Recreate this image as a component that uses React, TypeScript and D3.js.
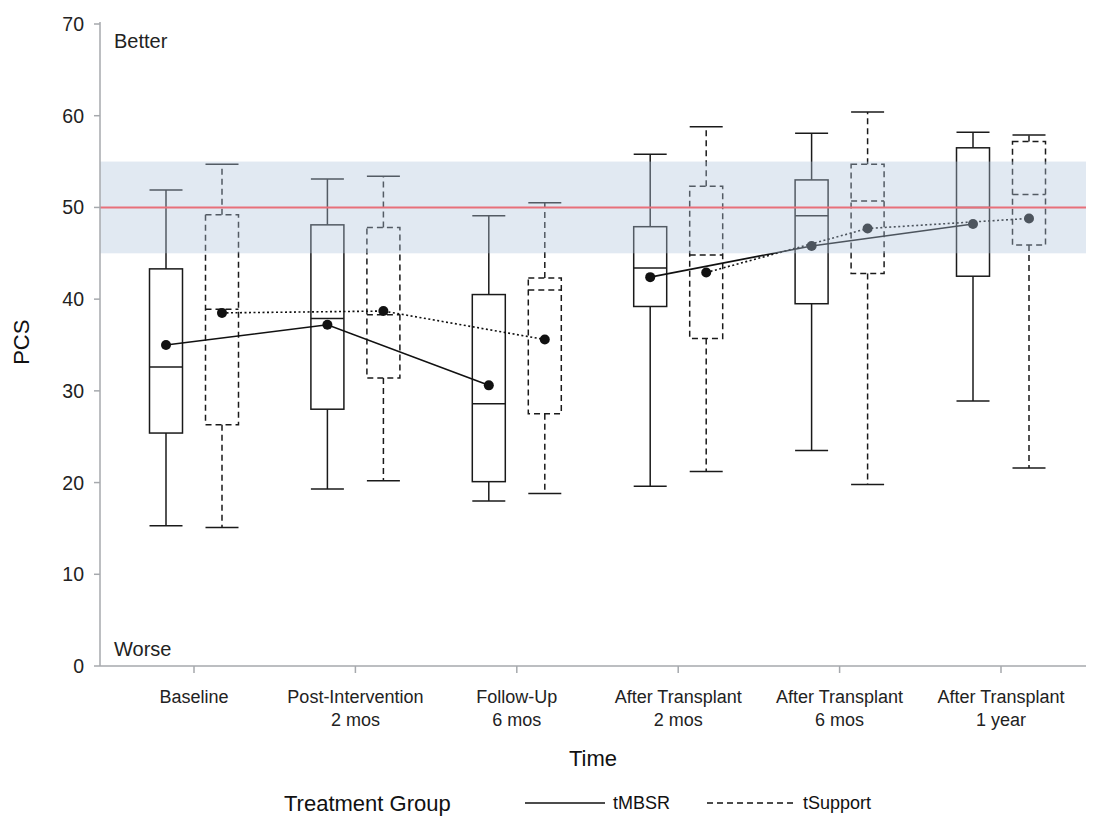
import * as d3 from "d3";

// time points (two-line tick labels)
const timeLabels = [
  ["Baseline"],
  ["Post-Intervention", "2 mos"],
  ["Follow-Up", "6 mos"],
  ["After Transplant", "2 mos"],
  ["After Transplant", "6 mos"],
  ["After Transplant", "1 year"],
];
const timeKeys = timeLabels.map((l) => l.join(" "));

// box stats per time point: [lower whisker, Q1, median, Q3, upper whisker]
const mbsrBoxes = [
  [15.3, 25.4, 32.6, 43.3, 51.9],
  [19.3, 28.0, 37.9, 48.1, 53.1],
  [18.0, 20.1, 28.6, 40.5, 49.1],
  [19.6, 39.2, 43.4, 47.9, 55.8],
  [23.5, 39.5, 49.1, 53.0, 58.1],
  [28.9, 42.5, 50.0, 56.5, 58.2],
];
const supportBoxes = [
  [15.1, 26.3, 38.9, 49.2, 54.7],
  [20.2, 31.4, 38.3, 47.8, 53.4],
  [18.8, 27.5, 41.0, 42.3, 50.5],
  [21.2, 35.7, 44.8, 52.3, 58.8],
  [19.8, 42.8, 50.7, 54.7, 60.4],
  [21.6, 45.9, 51.4, 57.2, 57.9],
];
const mbsrMeans = [35.0, 37.2, 30.6, 42.4, 45.8, 48.2];
const supportMeans = [38.5, 38.7, 35.6, 42.9, 47.7, 48.8];

const yTicks = [0, 10, 20, 30, 40, 50, 60, 70];
const refValue = 50;
const refBand = [45, 55];

const font = "'Liberation Sans', Arial, sans-serif";

const App = () => {
  const width = 1094;
  const height = 825;
  const left = 100;
  const right = 1088;
  const top = 24;
  const bottom = 666;

  const yScale = d3.scaleLinear().domain([0, 70]).range([bottom, top]);
  const xScale = d3.scalePoint().domain(timeKeys).range([194, 1001]);
  const offset = 28;
  const boxW = 33;

  const groups = [
    { name: "tMBSR", boxes: mbsrBoxes, means: mbsrMeans, dx: -offset, dash: null, meanDash: null },
    { name: "tSupport", boxes: supportBoxes, means: supportMeans, dx: offset, dash: "6,4", meanDash: "2,2.5" },
  ];

  const meanLine = d3
    .line()
    .x((d) => d[0])
    .y((d) => yScale(d[1]));

  return (
    <svg width={width} height={height} style={{ display: "block", margin: "-8px", fontFamily: font }}>
      <rect width={width} height={height} fill="#fff" />

      {groups.map((g) =>
        g.boxes.map((b, i) => {
          const cx = xScale(timeKeys[i]) + g.dx;
          const [lo, q1, med, q3, hi] = b;
          return (
            <g key={g.name + i} stroke="#1a1a1a" strokeWidth={1.5} fill="none" strokeDasharray={g.dash || undefined}>
              <line x1={cx} x2={cx} y1={yScale(q3)} y2={yScale(hi)} />
              <line x1={cx} x2={cx} y1={yScale(q1)} y2={yScale(lo)} />
              <line x1={cx - boxW / 2} x2={cx + boxW / 2} y1={yScale(hi)} y2={yScale(hi)} strokeDasharray="none" />
              <line x1={cx - boxW / 2} x2={cx + boxW / 2} y1={yScale(lo)} y2={yScale(lo)} strokeDasharray="none" />
              <rect x={cx - boxW / 2} y={yScale(q3)} width={boxW} height={yScale(q1) - yScale(q3)} />
              <line x1={cx - boxW / 2} x2={cx + boxW / 2} y1={yScale(med)} y2={yScale(med)} />
            </g>
          );
        })
      )}

      {groups.map((g) => {
        const pts = g.means.map((m, i) => [xScale(timeKeys[i]) + g.dx, m]);
        return (
          <g key={"mean" + g.name}>
            {[pts.slice(0, 3), pts.slice(3)].map((seg, k) => (
              <path
                key={k}
                d={meanLine(seg)}
                fill="none"
                stroke="#111"
                strokeWidth={1.6}
                strokeDasharray={g.meanDash || undefined}
              />
            ))}
            {pts.map((p, i) => (
              <circle key={i} cx={p[0]} cy={yScale(p[1])} r={5} fill="#111" />
            ))}
          </g>
        );
      })}

      {/* reference band drawn over the boxes, translucent */}
      <rect
        x={left}
        y={yScale(refBand[1])}
        width={right - left}
        height={yScale(refBand[0]) - yScale(refBand[1])}
        fill="rgb(176,196,222)"
        fillOpacity={0.38}
      />
      <line x1={left} x2={right} y1={yScale(refValue)} y2={yScale(refValue)} stroke="#e8707a" strokeWidth={2} />

      {/* axes */}
      <g stroke="#a6a9ad" strokeWidth={1.5}>
        <line x1={left} x2={left} y1={top - 2} y2={bottom} />
        <line x1={left} x2={right} y1={bottom} y2={bottom} />
        {yTicks.map((t) => (
          <line key={t} x1={left - 6} x2={left} y1={yScale(t)} y2={yScale(t)} />
        ))}
        {timeKeys.map((k) => (
          <line key={k} x1={xScale(k)} x2={xScale(k)} y1={bottom} y2={bottom + 7} />
        ))}
      </g>
      {yTicks.map((t) => (
        <text key={t} x={left - 16} y={yScale(t)} dy="0.36em" textAnchor="end" fontSize={19.5} fill="#222">
          {t}
        </text>
      ))}
      {timeLabels.map((lines, i) => (
        <text key={i} x={xScale(timeKeys[i])} y={703} textAnchor="middle" fontSize={18} fill="#222">
          {lines.map((l, j) => (
            <tspan key={j} x={xScale(timeKeys[i])} dy={j === 0 ? 0 : 23}>
              {l}
            </tspan>
          ))}
        </text>
      ))}

      <text x={114} y={48} fontSize={20} fill="#222">Better</text>
      <text x={114} y={656} fontSize={20} fill="#222">Worse</text>

      <text x={593} y={766} textAnchor="middle" fontSize={22} fill="#111">Time</text>
      <text transform={`translate(29, ${yScale(35.3)}) rotate(-90)`} textAnchor="middle" fontSize={22} fill="#111">
        PCS
      </text>

      {/* legend */}
      <g fill="#111">
        <text x={284} y={811} fontSize={22}>Treatment Group</text>
        <line x1={525} x2={605} y1={803} y2={803} stroke="#111" strokeWidth={1.5} />
        <text x={613} y={809} fontSize={18}>tMBSR</text>
        <line x1={707} x2={795} y1={803} y2={803} stroke="#111" strokeWidth={1.5} strokeDasharray="6,4" />
        <text x={803} y={809} fontSize={18}>tSupport</text>
      </g>
    </svg>
  );
};

export default App;
